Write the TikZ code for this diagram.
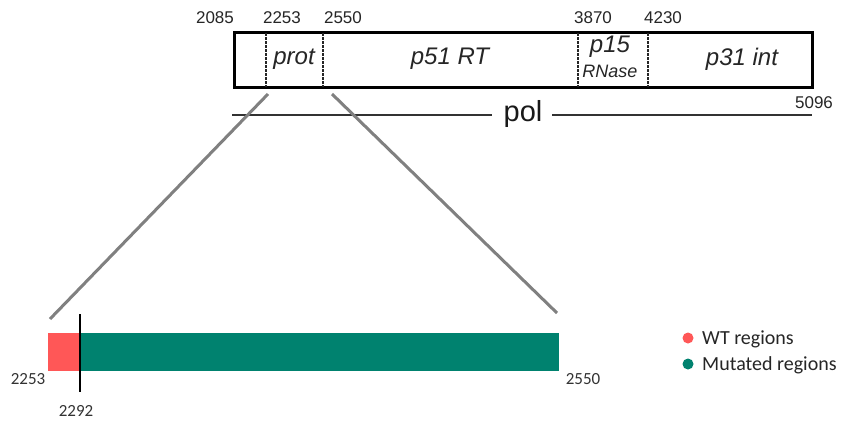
\documentclass[tikz,border=0pt]{standalone}
\usepackage{fontspec}
\setmainfont{Liberation Sans}
\newfontfamily\carl{Carlito}
\definecolor{wtred}{RGB}{255,87,87}
\definecolor{mutgreen}{RGB}{0,130,111}
\definecolor{zoomgrey}{RGB}{128,128,128}
\definecolor{polgrey}{RGB}{50,50,50}
\tikzset{
  num/.style={inner sep=0pt, font=\fontsize{17}{20}\selectfont, text=black!85},
  lab/.style={inner sep=0pt, font=\fontsize{24}{28}\selectfont\itshape, text=black!85},
  cnum/.style={inner sep=0pt, font=\carl\fontsize{17}{20}\selectfont, text=black!80},
  legtext/.style={inner sep=0pt, anchor=west, font=\carl\fontsize{20}{24}\selectfont, text=black!85},
  divider/.style={line width=1.3pt, dash pattern=on 2.5pt off 1.5pt, black!85},
  zoomline/.style={line width=3pt, zoomgrey},
  polline/.style={line width=1.6pt, polgrey},
}
\begin{document}
\begin{tikzpicture}[x=1pt,y=-1pt]
\useasboundingbox[fill=white] (0,0) rectangle (841,421);
% top gene box
\node[draw=black, line width=2.8pt, inner sep=0pt, minimum width=578pt, minimum height=55pt] (box) at (523.5,60) {};
\draw[divider] (266,33) -- (266,87);
\draw[divider] (323,33) -- (323,87);
\draw[divider] (578,33) -- (578,87);
\draw[divider] (648,33) -- (648,87);
% coordinates numbers
\node[num] (n2085) at (215,18) {2085};
\node[num] (n2253) at (282,18) {2253};
\node[num] (n2550) at (343,18) {2550};
\node[num] (n3870) at (593,18) {3870};
\node[num] (n4230) at (663,18) {4230};
\node[num] (n5096) at (814,103) {5096};
% labels inside
\node[lab] (prot) at (294,59) {prot};
\node[lab] (rt) at (450,59) {p51 RT};
\node[lab] (p15) at (610,47) {p15};
\node[inner sep=0pt, font=\fontsize{18}{20}\selectfont\itshape, text=black!85] (rnase) at (610,71) {RNase};
\node[lab] (int) at (742,59) {p31 int};
% pol line
\node[inner sep=0pt, font=\fontsize{29}{32}\selectfont, text=black!90] (pol) at (523,114) {pol};
\coordinate (polL) at (232,115);
\coordinate (polR) at (812,115);
\draw[polline] (polL) -- (492,115);
\draw[polline] (552,115) -- (polR);
% zoom lines
\coordinate (zA) at (268,94);
\coordinate (zB) at (332,94);
\coordinate (zC) at (50,319);
\coordinate (zD) at (557,313);
\draw[zoomline] (zA) -- (zC);
\draw[zoomline] (zB) -- (zD);
% bottom bar
\node[fill=wtred, inner sep=0pt, minimum width=31pt, minimum height=38pt, anchor=north west] (wt) at (48,333) {};
\node[fill=mutgreen, inner sep=0pt, minimum width=480pt, minimum height=38pt, anchor=north west] (mut) at (79,333) {};
\coordinate (mTop) at (80,314);
\coordinate (mBot) at (80,392);
\draw[line width=2.2pt, black] (mTop) -- (mBot);
\node[cnum] (b2253) at (28,379) {2253};
\node[cnum] (b2550) at (583,379) {2550};
\node[cnum] (b2292) at (76,411) {2292};
% legend
\node[circle, fill=wtred, inner sep=0pt, minimum size=11pt] (dotwt) at (688,338) {};
\node[circle, fill=mutgreen, inner sep=0pt, minimum size=11pt] (dotmut) at (688,364) {};
\node[legtext] (lwt) at (702,339) {WT regions};
\node[legtext] (lmut) at (702,365) {Mutated regions};
\end{tikzpicture}
\end{document}
